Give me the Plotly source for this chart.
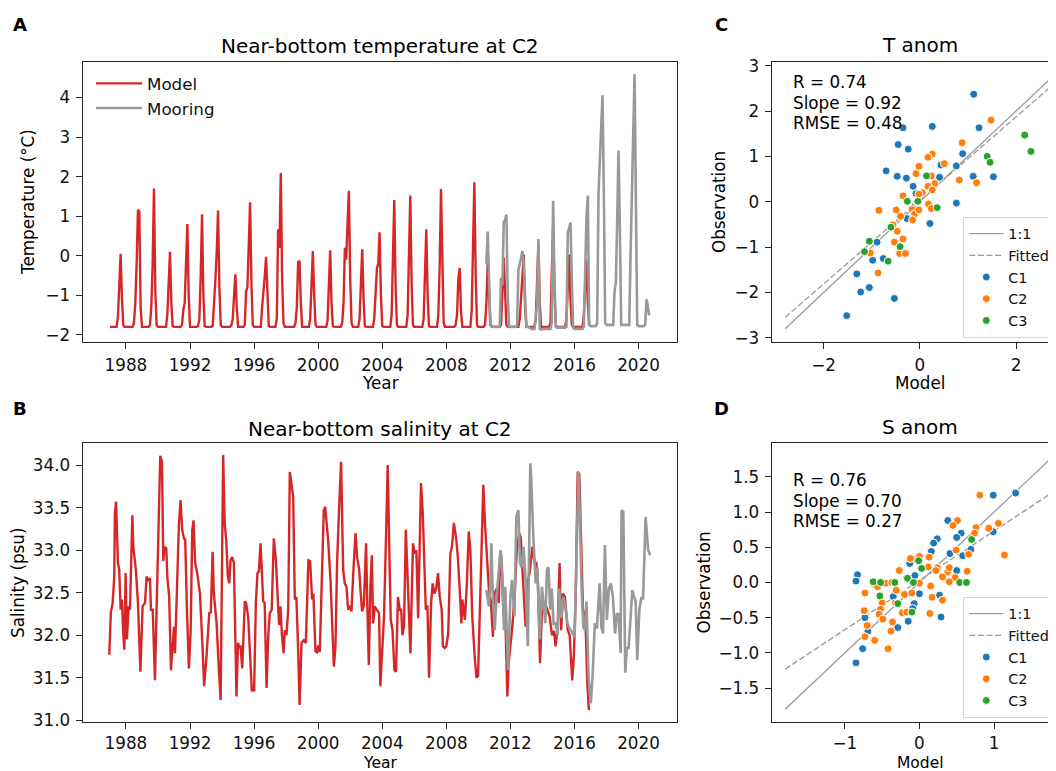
import plotly.graph_objects as go

FONT = "DejaVu Sans"
W, H = 1056, 771
OFF = 8                      # default page margin of the html body
FW, FH = W - OFF, H - OFF    # figure size so that the picture fills the window

# ---------------- Panel A: near-bottom temperature (monthly) ----------------
temp_model_start = 1987.0
temp_model = [
    -1.8, -1.8, -1.8, -1.8, -1.8, -1.8, -1.55, -0.9, 0.05, -1.1, -1.75, -1.8,      # 1987
    -1.8, -1.8, -1.8, -1.8, -1.8, -1.8, -1.7, -1.2, -0.2, 1.16, 1.12, -1.3,        # 1988
    -1.8, -1.8, -1.8, -1.8, -1.8, -1.8, -1.75, -1.3, -0.2, 1.70, -0.9, -1.75,      # 1989
    -1.8, -1.8, -1.8, -1.8, -1.8, -1.8, -1.8, -1.5, -0.8, 0.10, -1.2, -1.78,       # 1990
    -1.8, -1.8, -1.8, -1.8, -1.8, -1.8, -1.75, -1.36, -1.2, -0.3, 0.80, -1.0,      # 1991
    -1.8, -1.8, -1.8, -1.8, -1.8, -1.8, -1.78, -1.6, -0.5, 1.05, -1.0, -1.78,      # 1992
    -1.8, -1.8, -1.8, -1.8, -1.8, -1.78, -1.3, -0.6, 0.1, 1.14, -0.8, -1.75,       # 1993
    -1.8, -1.8, -1.8, -1.8, -1.8, -1.8, -1.8, -1.75, -1.6, -1.0, -0.47, -1.3,      # 1994
    -1.8, -1.8, -1.8, -1.8, -1.8, -1.75, -0.9, -0.8, 0.2, 1.35, -0.7, -1.75,       # 1995
    -1.8, -1.8, -1.8, -1.8, -1.8, -1.8, -1.3, -0.96, -0.5, -0.03, -1.2, -1.78,     # 1996
    -1.8, -1.8, -1.8, -1.8, -1.8, -1.6, 0.67, 0.2, 2.09, -0.6, -1.7, -1.8,         # 1997
    -1.8, -1.8, -1.8, -1.8, -1.8, -1.8, -1.8, -1.7, -1.3, -0.16, -0.13, -1.2,      # 1998
    -1.8, -1.8, -1.8, -1.8, -1.8, -1.8, -1.6, -0.9, 0.12, -1.0, -1.75, -1.8,       # 1999
    -1.8, -1.8, -1.8, -1.8, -1.8, -1.8, -1.8, -1.65, -0.9, 0.14, -1.2, -1.78,      # 2000
    -1.8, -1.8, -1.8, -1.8, -1.8, -1.8, -1.7, -1.2, 0.2, -0.1, 0.8, 1.64,          # 2001
    -0.6, -1.7, -1.8, -1.8, -1.8, -1.8, -1.8, -1.6, -0.8, 0.16, -1.1, -1.78,       # 2002
    -1.8, -1.8, -1.8, -1.8, -1.8, -1.8, -1.6, -0.9, -0.32, -0.2, 0.59, -1.0,       # 2003
    -1.78, -1.8, -1.8, -1.8, -1.8, -1.8, -1.8, -1.5, -0.3, 1.41, -0.8, -1.75,      # 2004
    -1.8, -1.8, -1.8, -1.8, -1.8, -1.8, -1.8, -1.5, -0.2, 1.52, -0.7, -1.75,       # 2005
    -1.8, -1.8, -1.8, -1.8, -1.8, -1.8, -1.8, -1.6, -0.6, 0.67, -1.0, -1.78,       # 2006
    -1.8, -1.8, -1.8, -1.8, -1.8, -1.8, -1.5, -0.3, 1.69, -0.6, -1.7, -1.8,        # 2007
    -1.8, -1.8, -1.8, -1.8, -1.8, -1.8, -1.8, -1.75, -1.5, -0.6, -0.31, -1.4,      # 2008
    -1.8, -1.8, -1.8, -1.8, -1.8, -1.8, -1.8, -1.4, 0.0, 1.86, -0.5, -1.75,        # 2009
    -1.8, -1.8, -1.8, -1.8, -1.8, -1.75, -1.2, -0.18, -1.0, -1.75, -1.8, -1.8,     # 2010
    -1.8, -1.8, -1.8, -1.8, -1.8, -1.75, -0.97, -0.05, -0.9, -1.75, -1.8, -1.8,    # 2011
    -1.8, -1.8, -1.8, -1.8, -1.8, -1.8, -1.8, -1.6, -1.0, -0.6, 0.03, -1.3,        # 2012
    -1.8, -1.8, -1.8, -1.8, -1.8, -1.8, -1.8, -1.6, -0.8, 0.3, -1.2, -1.8,         # 2013
    -1.8, -1.8, -1.8, -1.8, -1.8, -1.8, -1.7, -0.6, 0.8, -0.9, -1.75, -1.8,        # 2014
    -1.8, -1.8, -1.8, -1.8, -1.8, -1.8, -1.6, -0.9, 0.03, -1.1, -1.75, -1.8,       # 2015
    -1.8, -1.8, -1.8, -1.8, -1.8, -1.8, -1.8, -1.5, -0.56, -0.1, -1.2, -1.75,      # 2016
]

temp_mooring_start = 2010.5
temp_mooring = [
    -0.2, 0.61, -0.6, -1.7, -1.79, -1.8,                                             # 2010 Jul-Dec
    -1.8, -1.8, -1.8, -1.8, -1.78, -0.56, -0.75, 0.85, 0.9, 1.04, -1.0, -1.79,       # 2011
    -1.8, -1.8, -1.8, -1.8, -1.8, -1.78, -0.36, -0.22, 0.0, 0.12, -0.25, -1.22,      # 2012
    -1.8, -1.8, -1.82, -1.85, -1.85, -1.85, -1.85, -1.55, -1.2, 0.42, -1.85, -1.87,  # 2013
    -1.85, -1.85, -1.85, -1.85, -1.85, -1.85, -1.85, -1.7, 1.39, -0.6, -1.8, -1.82,  # 2014
    -1.82, -1.82, -1.82, -1.82, -1.82, -1.82, -1.8, 0.6, 0.7, 0.84, -0.6, -1.82,     # 2015
    -1.85, -1.85, -1.85, -1.85, -1.85, -1.85, -1.85, -1.8, 0.03, 0.98, 1.52, -1.75,  # 2016
    -1.78, -1.78, -1.78, -1.78, -1.78, -1.7, 1.56, 2.41, 3.2, 4.06, 1.6, -1.7,       # 2017
    -1.75, -1.75, -1.75, -1.75, -1.75, -1.75, -0.9, -0.69, 0.9, 2.66, 0.7, -1.75,    # 2018
    -1.75, -1.75, -1.75, -1.75, -1.75, -1.75, 0.0, 1.39, 3.0, 4.59, 1.4, -1.75,      # 2019
    -1.78, -1.78, -1.78, -1.78, -1.78, -1.75, -1.1, -1.3, -1.51,                     # 2020 Jan-Sep
]

# ---------------- Panel B: near-bottom salinity ----------------
sal_model_t = [
    1986.96, 1987.06, 1987.17, 1987.27, 1987.31, 1987.38, 1987.50, 1987.58, 1987.67, 1987.75,
    1987.83, 1987.90, 1987.98, 1988.06, 1988.17, 1988.25, 1988.40, 1988.46, 1988.62, 1988.75,
    1988.90, 1989.04, 1989.19, 1989.29, 1989.39, 1989.50, 1989.56, 1989.67, 1989.81, 1989.92,
    1990.04, 1990.14, 1990.25, 1990.33, 1990.41, 1990.52, 1990.58, 1990.70, 1990.81, 1990.91,
    1991.00, 1991.06, 1991.16, 1991.31, 1991.41, 1991.51, 1991.62, 1991.70, 1991.82, 1991.93,
    1992.04, 1992.14, 1992.22, 1992.32, 1992.45, 1992.62, 1992.79, 1992.88, 1993.03, 1993.20,
    1993.30, 1993.41, 1993.49, 1993.66, 1993.78, 1993.91, 1994.07, 1994.16, 1994.26, 1994.36,
    1994.45, 1994.53, 1994.63, 1994.74, 1994.82, 1994.90, 1995.00, 1995.08, 1995.15, 1995.26,
    1995.42, 1995.50, 1995.63, 1995.78, 1995.86, 1995.93, 1996.00, 1996.11, 1996.21, 1996.30,
    1996.40, 1996.48, 1996.57, 1996.66, 1996.78, 1996.88, 1996.98, 1997.10, 1997.23, 1997.36,
    1997.48, 1997.56, 1997.65, 1997.73, 1997.84, 1997.92, 1998.02, 1998.13, 1998.23, 1998.34,
    1998.44, 1998.54, 1998.64, 1998.75, 1998.84, 1998.96, 1999.10, 1999.23, 1999.39, 1999.50,
    1999.62, 1999.70, 1999.83, 1999.92, 2000.00, 2000.10, 2000.23, 2000.35, 2000.44, 2000.62,
    2000.77, 2000.89, 2000.98, 2001.08, 2001.18, 2001.31, 2001.43, 2001.56, 2001.66, 2001.77,
    2001.87, 2001.97, 2002.08, 2002.18, 2002.33, 2002.43, 2002.56, 2002.64, 2002.74, 2002.85,
    2002.99, 2003.07, 2003.16, 2003.26, 2003.35, 2003.43, 2003.53, 2003.65, 2003.80, 2003.88,
    2004.01, 2004.11, 2004.22, 2004.34, 2004.45, 2004.53, 2004.64, 2004.76, 2004.86, 2004.98,
    2005.09, 2005.18, 2005.26, 2005.36, 2005.47, 2005.54, 2005.65, 2005.76, 2005.83, 2005.92,
    2006.03, 2006.13, 2006.24, 2006.34, 2006.42, 2006.53, 2006.63, 2006.72, 2006.82, 2006.92,
    2007.05, 2007.15, 2007.26, 2007.37, 2007.48, 2007.59, 2007.71, 2007.79, 2007.90, 2008.00,
    2008.12, 2008.25, 2008.36, 2008.47, 2008.60, 2008.72, 2008.85, 2008.94, 2009.00, 2009.08,
    2009.16, 2009.28, 2009.40, 2009.50, 2009.62, 2009.77, 2009.88, 2009.98, 2010.08, 2010.21,
    2010.31, 2010.41, 2010.54, 2010.66, 2010.78, 2010.91, 2011.02, 2011.15, 2011.27, 2011.37,
    2011.45, 2011.58, 2011.68, 2011.81, 2011.89, 2011.98, 2012.12, 2012.27, 2012.40, 2012.55,
    2012.65, 2012.75, 2012.85, 2012.95, 2013.05, 2013.20, 2013.37, 2013.51, 2013.62, 2013.72,
    2013.85, 2013.97, 2014.08, 2014.15, 2014.30, 2014.45, 2014.60, 2014.72, 2014.82, 2014.95,
    2015.07, 2015.17, 2015.28, 2015.40, 2015.58, 2015.70, 2015.86, 2015.96, 2016.08, 2016.20,
    2016.30, 2016.43, 2016.53, 2016.68, 2016.80, 2016.90,
]
sal_model_v = [
    31.77, 32.27, 32.38, 32.69, 33.43, 33.57, 32.85, 32.77, 32.30, 32.42,
    32.02, 31.83, 32.73, 31.95, 32.34, 32.30, 33.41, 33.04, 32.77, 32.38,
    31.57, 32.34, 32.38, 32.69, 32.65, 32.67, 32.30, 32.30, 31.47, 32.26,
    33.12, 34.11, 34.04, 32.87, 33.04, 33.02, 32.69, 32.45, 31.59, 31.91,
    32.10, 31.79, 32.53, 33.32, 33.59, 33.24, 33.14, 33.12, 32.22, 31.61,
    32.06, 33.24, 33.35, 32.85, 32.73, 32.49, 31.83, 31.40, 31.75, 32.26,
    32.27, 32.98, 32.49, 32.14, 31.67, 31.24, 34.12, 33.32, 33.12, 32.69,
    32.61, 32.88, 32.92, 32.85, 32.06, 31.28, 31.91, 31.85, 31.88, 31.61,
    32.40, 32.38, 32.22, 31.67, 31.34, 31.38, 31.34, 32.38, 32.73, 32.75,
    33.08, 32.77, 32.40, 32.38, 31.38, 31.98, 32.26, 32.30, 33.14, 32.88,
    32.45, 32.12, 32.34, 32.02, 31.79, 32.06, 32.00, 32.30, 33.92, 33.79,
    33.63, 32.42, 32.45, 31.83, 31.18, 31.91, 31.94, 31.91, 32.88, 32.87,
    32.42, 32.49, 31.81, 31.80, 31.88, 31.80, 32.69, 33.47, 33.51, 33.12,
    32.65, 32.06, 31.63, 31.87, 32.85, 33.51, 34.04, 32.77, 32.61, 32.57,
    32.30, 32.35, 32.28, 32.69, 33.20, 32.92, 32.77, 32.53, 32.28, 32.35,
    33.08, 32.34, 31.65, 32.57, 32.94, 32.14, 32.34, 32.30, 32.26, 31.40,
    31.83, 32.22, 33.04, 34.00, 32.92, 32.18, 32.06, 31.59, 31.57, 32.45,
    32.30, 32.30, 32.00, 32.10, 33.24, 32.85, 32.22, 31.79, 32.38, 33.08,
    32.96, 33.00, 32.20, 33.24, 33.79, 33.43, 32.77, 32.30, 32.35, 31.50,
    32.38, 32.61, 32.49, 32.55, 32.73, 32.45, 32.30, 31.87, 31.85, 31.87,
    32.02, 32.96, 33.05, 33.32, 33.16, 32.92, 32.49, 32.14, 32.42, 32.25,
    32.18, 32.60, 33.22, 33.00, 32.22, 31.75, 31.50, 31.52, 32.30, 32.96,
    33.77, 33.32, 32.92, 32.53, 32.40, 31.98, 32.50, 32.55, 32.38, 32.96,
    32.85, 32.22, 32.25, 31.28, 31.67, 31.85, 32.10, 32.50, 33.00, 33.20,
    33.15, 32.77, 32.40, 32.10, 32.60, 32.73, 33.04, 32.85, 32.85, 32.61,
    31.67, 32.30, 32.40, 32.38, 32.30, 32.22, 32.00, 32.05, 31.87, 32.10,
    32.85, 32.06, 32.49, 32.45, 32.06, 32.00, 31.47, 31.75, 32.50, 33.92,
    33.90, 32.85, 32.30, 32.22, 31.44, 31.12,
]

sal_mooring_t = [
    2010.50, 2010.58, 2010.66, 2010.75, 2010.81, 2010.90, 2011.02, 2011.12, 2011.28, 2011.38,
    2011.45, 2011.60, 2011.68, 2011.85, 2012.00, 2012.10, 2012.25, 2012.37, 2012.50, 2012.60,
    2012.70, 2012.82, 2012.95, 2013.09, 2013.24, 2013.30, 2013.42, 2013.58, 2013.68, 2013.83,
    2013.97, 2014.06, 2014.18, 2014.28, 2014.38, 2014.48, 2014.58, 2014.70, 2014.82, 2014.95,
    2015.05, 2015.18, 2015.30, 2015.42, 2015.55, 2015.68, 2015.80, 2016.01, 2016.12, 2016.25,
    2016.35, 2016.45, 2016.55, 2016.65, 2016.75, 2016.88, 2017.02, 2017.15, 2017.27, 2017.40,
    2017.57, 2017.68, 2017.78, 2017.90, 2018.02, 2018.15, 2018.27, 2018.40, 2018.53, 2018.65,
    2018.75, 2018.88, 2018.94, 2019.05, 2019.17, 2019.27, 2019.38, 2019.50, 2019.61, 2019.72,
    2019.82, 2019.92, 2020.05, 2020.18, 2020.28, 2020.44, 2020.60, 2020.73,
]
sal_mooring_v = [
    32.53, 32.45, 32.34, 32.60, 33.08, 32.50, 32.06, 32.40, 32.77, 33.00,
    32.92, 32.06, 32.57, 31.59, 32.45, 32.65, 32.22, 33.39, 33.47, 32.85,
    32.80, 33.04, 32.65, 31.87, 34.02, 33.85, 33.20, 32.61, 32.80, 31.95,
    32.57, 32.40, 32.14, 32.77, 32.80, 32.30, 32.55, 32.12, 32.15, 32.00,
    32.55, 32.20, 32.45, 32.35, 32.15, 32.08, 32.05, 31.98, 32.90, 33.92,
    33.30, 32.50, 32.10, 32.06, 32.40, 31.50, 31.20, 31.60, 32.14, 32.08,
    32.61, 32.10, 32.02, 33.06, 32.18, 32.55, 32.61, 32.45, 32.02, 32.25,
    32.25, 31.79, 33.47, 33.45, 31.56, 31.85, 31.85, 32.15, 32.53, 32.45,
    32.40, 31.71, 32.30, 32.45, 32.42, 33.39, 33.00, 32.94,
]

# ---------------- Panel C: T anomaly scatter ----------------
tC1_x = [1.12, 0.26, 1.23, -0.35, -0.45, -0.24, -0.70, -0.47, -0.28, -0.14, 0.41, 0.44, 0.89, 0.76,
         1.11, 1.53, 0.76, 0.21, -0.27, -0.89, -0.98, -0.76, -1.31, -1.05, -1.23, -0.53, -1.52, -0.08, -0.10]
tC1_y = [2.37, 1.66, 1.63, 1.63, 1.26, 1.16, 0.68, 0.56, 0.52, 0.34, 0.54, 0.81, 1.06, 0.79,
         0.56, 0.55, -0.03, -0.48, -0.37, -0.89, -1.29, -1.25, -1.59, -1.89, -1.99, -2.13, -2.51, 0.18, -0.10]
tC2_x = [1.48, 0.88, 0.26, 0.17, 0.51, -0.02, -0.08, 0.24, 0.82, 1.18, 0.31, 0.17, 0.26, -0.35, 0.05,
         -0.02, -0.06, -0.85, -0.49, -0.40, -0.16, -0.11, -0.02, 0.18, 0.24, -0.15, -0.56, -0.47, -0.53,
         -0.35, -0.42, -0.30, -1.03, -0.87]
tC2_y = [1.80, 1.30, 1.05, 0.98, 0.84, 0.78, 0.62, 0.57, 0.48, 0.42, 0.40, 0.34, 0.26, 0.13, 0.20,
         0.17, 0.00, -0.19, -0.18, -0.32, -0.17, -0.27, -0.18, -0.05, -0.15, -0.40, -0.51, -0.65, -0.89,
         -0.82, -1.14, -1.14, -1.13, -1.57]
tC3_x = [2.18, 2.31, 1.40, 1.46, 0.14, -0.26, -0.04, 0.36, -0.60, -1.05, -1.15, -0.41, -0.66]
tC3_y = [1.47, 1.11, 1.00, 0.87, 0.57, 0.01, 0.01, -0.13, -0.56, -0.87, -1.10, -0.99, -1.31]
statsT = {"R": "0.74", "Slope": "0.92", "RMSE": "0.48"}
slopeT, icptT = 0.92, 0.03
lineT_x = [-2.8, 2.8]

# ---------------- Panel D: S anomaly scatter ----------------
sC1_x = [1.29, 0.99, 0.38, 0.56, 0.50, 0.24, 0.19, 0.16, 0.41, 0.69, 0.58, 0.99, -0.08, -0.13, -0.06,
         0.50, 0.00, 0.27, 0.29, -0.83, -0.85, -0.73, -0.69, -0.76, -0.85, -0.29, -0.15, -0.35, -0.07, -0.09]
sC1_y = [1.27, 1.24, 0.88, 0.70, 0.64, 0.62, 0.56, 0.44, 0.41, 0.47, 0.38, 0.72, 0.33, 0.27, 0.10,
         0.17, -0.16, -0.18, -0.49, 0.11, 0.02, -0.50, -0.69, -0.94, -1.14, -0.64, -0.55, -0.20, -0.30, -0.37]
sC2_x = [0.81, 0.51, 0.45, 0.76, 0.74, 0.93, 1.06, 1.14, 0.66, 0.49, 0.00, 0.13, -0.12, 0.12, 0.24,
         0.22, 0.38, 0.40, 0.31, 0.48, 0.64, -0.27, -0.17, -0.45, -0.37, -0.61, -0.56, -0.31, -0.20, -0.10,
         0.00, 0.15, 0.17, 0.31, 0.40, -0.73, -0.52, -0.50, -0.32, -0.23, -0.17, -0.52, -0.54, -0.49, -0.74,
         -0.70, -0.73, -0.36, -0.38, -0.60, -0.42, 0.14]
sC2_y = [1.24, 0.88, 0.81, 0.78, 0.70, 0.77, 0.84, 0.39, 0.40, 0.46, 0.37, 0.36, 0.34, 0.22, 0.21,
         0.17, 0.15, 0.21, 0.08, 0.07, 0.16, 0.17, 0.07, -0.01, 0.00, -0.02, -0.06, -0.11, -0.17, -0.15,
         -0.01, -0.05, -0.21, -0.25, 0.01, -0.15, -0.20, -0.29, -0.29, -0.43, -0.42, -0.38, -0.45, -0.52, -0.40,
         -0.61, -0.77, -0.56, -0.69, -0.82, -0.94, -0.44]
sC3_x = [0.70, -0.01, 0.03, -0.16, -0.62, -0.52, -0.33, -0.08, 0.54, 0.63, -0.53, -0.29, -0.10]
sC3_y = [0.61, 0.31, 0.20, 0.06, 0.01, 0.00, 0.00, 0.00, 0.00, 0.00, -0.19, -0.30, -0.42]
statsS = {"R": "0.76", "Slope": "0.70", "RMSE": "0.27"}
slopeS, icptS = 0.70, 0.03
lineS_x = [-1.8, 1.8]

years_ticks = [1988, 1992, 1996, 2000, 2004, 2008, 2012, 2016, 2020]

RED = "#d62728"
GRAY = "#999999"
BLUE, ORANGE, GREEN = "#1f77b4", "#ff7f0e", "#2ca02c"
AX = "#262626"
FS = 16.8       # tick / label font
LFS = 14.4      # legend font in C, D


def px_x(p):
    return (p - OFF) / FW


def px_y(p):
    return 1 - (p - OFF) / FH


temp_model_t = [temp_model_start + i / 12 for i in range(len(temp_model))]
temp_mooring_t = [temp_mooring_start + i / 12 for i in range(len(temp_mooring))]

fig = go.Figure()

# Panel A
fig.add_trace(go.Scatter(x=temp_model_t, y=temp_model, mode="lines", name="Model",
                         line=dict(color=RED, width=2.4), xaxis="x", yaxis="y",
                         legend="legend", legendgroup="a1"))
fig.add_trace(go.Scatter(x=temp_mooring_t, y=temp_mooring, mode="lines", name="Mooring",
                         line=dict(color=GRAY, width=2.6), xaxis="x", yaxis="y",
                         legend="legend", legendgroup="a2"))
# Panel B
fig.add_trace(go.Scatter(x=sal_model_t, y=sal_model_v, mode="lines", name="Model",
                         line=dict(color=RED, width=2.4), xaxis="x2", yaxis="y2", showlegend=False))
fig.add_trace(go.Scatter(x=sal_mooring_t, y=sal_mooring_v, mode="lines", name="Mooring",
                         line=dict(color=GRAY, width=2.6), xaxis="x2", yaxis="y2", showlegend=False))


def scatter_panel(xa, ya, leg, line_x, slope, icpt, groups):
    fig.add_trace(go.Scatter(x=line_x, y=line_x, mode="lines", name="1:1",
                             line=dict(color=GRAY, width=1.3), xaxis=xa, yaxis=ya,
                             legend=leg, legendgroup=leg + "l1"))
    fig.add_trace(go.Scatter(x=line_x, y=[slope * v + icpt for v in line_x], mode="lines", name="Fitted",
                             line=dict(color=GRAY, width=1.3, dash="6px,2.6px"),
                             xaxis=xa, yaxis=ya, legend=leg, legendgroup=leg + "l2"))
    for name, xs, ys, col in groups:
        fig.add_trace(go.Scatter(x=xs, y=ys, mode="markers", name=name,
                                 marker=dict(color=col, size=8, line=dict(color="white", width=1)),
                                 xaxis=xa, yaxis=ya, legend=leg, legendgroup=leg + name))


scatter_panel("x3", "y3", "legend2", lineT_x, slopeT, icptT,
              [("C1", tC1_x, tC1_y, BLUE), ("C2", tC2_x, tC2_y, ORANGE), ("C3", tC3_x, tC3_y, GREEN)])
scatter_panel("x4", "y4", "legend3", lineS_x, slopeS, icptS,
              [("C1", sC1_x, sC1_y, BLUE), ("C2", sC2_x, sC2_y, ORANGE), ("C3", sC3_x, sC3_y, GREEN)])

axis_common = dict(showline=True, linecolor=AX, linewidth=1.2, ticks="outside", ticklen=6,
                   tickwidth=1.2, tickcolor=AX, showgrid=False, zeroline=False, ticklabelstandoff=2,
                   tickfont=dict(family=FONT, size=FS, color="#111111"))

yA = [px_y(341.5), px_y(62)]
yB = [px_y(722), px_y(443)]
xAB = [px_x(82.7), px_x(677)]
xCD = [px_x(771.7), 1.0]

fig.update_layout(
    xaxis=dict(axis_common, domain=xAB, range=[1985.3, 2022.4], tickvals=years_ticks, anchor="y", mirror=True),
    yaxis=dict(axis_common, domain=yA, range=[-2.17, 4.9], dtick=1, anchor="x", mirror=True),
    xaxis2=dict(axis_common, domain=xAB, range=[1985.3, 2022.4], tickvals=years_ticks, anchor="y2",
                mirror=True, ticklabelstandoff=0),
    yaxis2=dict(axis_common, domain=yB, range=[30.98, 34.26], dtick=0.5, tickformat=".1f", anchor="x2", mirror=True),
    xaxis3=dict(axis_common, domain=xCD, range=[-3.08, 2.831], dtick=2, anchor="y3", mirror=True),
    yaxis3=dict(axis_common, domain=yA, range=[-3.08, 3.08], dtick=1, anchor="x3"),
    xaxis4=dict(axis_common, domain=xCD, range=[-1.98, 1.831], dtick=1, anchor="y4",
                mirror=True, ticklabelstandoff=0),
    yaxis4=dict(axis_common, domain=yB, range=[-1.98, 1.98], dtick=0.5, tickformat=".1f", anchor="x4"),
)

fig.update_layout(
    legend=dict(x=px_x(91), y=px_y(66), xanchor="left", yanchor="top", bgcolor="rgba(0,0,0,0)",
                borderwidth=0, font=dict(family=FONT, size=16.7, color="#111111"),
                tracegroupgap=0, itemwidth=46),
    legend2=dict(x=px_x(963.3), y=px_y(216.7), xanchor="left", yanchor="top",
                 bgcolor="rgba(255,255,255,0.85)", bordercolor="#d4d4d4", borderwidth=1,
                 font=dict(family=FONT, size=LFS, color="#111111"), itemwidth=34, tracegroupgap=0),
    legend3=dict(x=px_x(963.3), y=px_y(596.7), xanchor="left", yanchor="top",
                 bgcolor="rgba(255,255,255,0.85)", bordercolor="#d4d4d4", borderwidth=1,
                 font=dict(family=FONT, size=LFS, color="#111111"), itemwidth=34, tracegroupgap=0),
)

ann = []


def text(x, y, s, size=FS, angle=0, bold=False, xanchor="center"):
    ann.append(dict(x=px_x(x), y=px_y(y), xref="paper", yref="paper", text=f"<b>{s}</b>" if bold else s,
                    showarrow=False, xanchor=xanchor, yanchor="middle", textangle=angle,
                    font=dict(family=FONT, size=size, color="#000000")))


# panel titles
text(380, 46, "Near-bottom temperature at C2", size=20)
text(380, 429, "Near-bottom salinity at C2", size=20)
text(920, 45, "T anom", size=20)
text(920, 427, "S anom", size=20)
# panel letters
text(20, 24, "A", size=18, bold=True)
text(20, 408, "B", size=18, bold=True)
text(721, 24, "C", size=18, bold=True)
text(721, 408, "D", size=18, bold=True)
# axis titles
text(380, 383, "Year")
text(380, 762.5, "Year", size=15.5)
text(920, 383, "Model")
text(920, 762.5, "Model", size=15.5)
text(28, 202, "Temperature (°C)", angle=-90)
text(18, 583, "Salinity (psu)", angle=-90)
text(719, 202, "Observation", angle=-90)
text(703.5, 583, "Observation", angle=-90)
# stats
for (lbl, val), yy in zip(statsT.items(), [82, 102.5, 123]):
    text(791, yy, f"{lbl} = {val}", xanchor="left")
for (lbl, val), yy in zip(statsS.items(), [480, 500.5, 521]):
    text(791, yy, f"{lbl} = {val}", xanchor="left")

fig.update_layout(
    annotations=ann,
    width=FW, height=FH,
    margin=dict(l=0, r=0, t=0, b=0, autoexpand=False),
    paper_bgcolor="white", plot_bgcolor="white",
    font=dict(family=FONT, size=FS, color="#111111"),
)

fig.write_html("out.html")
